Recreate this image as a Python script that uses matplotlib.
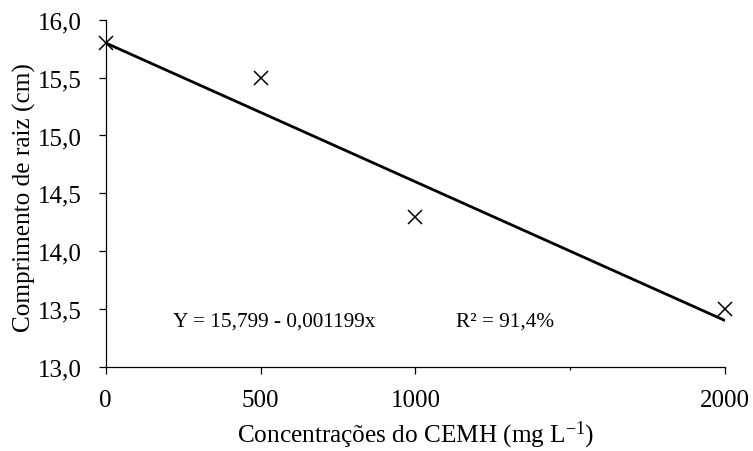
import numpy as np
import matplotlib.pyplot as plt
from matplotlib.ticker import FuncFormatter

plt.rcParams['font.family'] = ['Liberation Serif', 'DejaVu Serif']
plt.rcParams['mathtext.fontset'] = 'custom'
plt.rcParams['mathtext.rm'] = 'Liberation Serif'
plt.rcParams['mathtext.it'] = 'Liberation Serif:italic'

# Data
concentracao = [0, 500, 1000, 2000]          # mg L-1
comprimento = [15.8, 15.5, 14.3, 13.5]       # cm

# Fitted regression
intercepto = 15.799
inclinacao = -0.001199
r2_pct = 91.4

x_ticks = [0, 500, 1000, 2000]
x_minor = [1500]
y_ticks = [13.0, 13.5, 14.0, 14.5, 15.0, 15.5, 16.0]

fig = plt.figure(figsize=(7.53, 4.52), dpi=100)
ax = fig.add_axes([0.1404, 0.1858, 0.8226, 0.7684])

# regression line
x_fit = np.array([concentracao[0], concentracao[-1]])
y_fit = intercepto + inclinacao * x_fit
ax.plot(x_fit, y_fit, color='black', lw=2.0, solid_capstyle='butt', zorder=2)

# observed points
ax.plot(concentracao, comprimento, linestyle='none', marker='x',
        markersize=9.5, markeredgewidth=1.1, color='black', zorder=3, clip_on=False)

ax.set_xlim(0, 2000)
ax.set_ylim(13.0, 16.0)
ax.set_xticks(x_ticks)
ax.set_xticks(x_minor, minor=True)
ax.set_yticks(y_ticks)
ax.yaxis.set_major_formatter(FuncFormatter(lambda v, p: f"{v:.1f}".replace('.', ',')))

for side in ['top', 'right']:
    ax.spines[side].set_visible(False)
for side in ['left', 'bottom']:
    ax.spines[side].set_linewidth(0.9)

ax.tick_params(axis='x', which='major', direction='out', length=5, width=0.9,
               pad=10.5, labelsize=18)
ax.tick_params(axis='x', which='minor', direction='out', length=2, width=0.9)
ax.tick_params(axis='y', which='major', direction='out', length=5, width=0.9,
               pad=12.5, labelsize=18)

ax.set_xlabel('Concentrações do CEMH (mg L$^{\\mathrm{-1}}$)', fontsize=18.2)
ax.set_ylabel('Comprimento de raiz (cm)', fontsize=18.2)
ax.xaxis.set_label_coords(0.5, -0.195)
ax.yaxis.set_label_coords(-0.132, 0.49)
ax.xaxis.label.set_va('center')
ax.yaxis.label.set_va('center')

eq = f"Y = {intercepto:.3f} - {abs(inclinacao):.6f}x".replace('.', ',')
ax.text(217, 13.40, eq, fontsize=15.3, va='center', ha='left')
ax.text(1131, 13.40, f"R² = {r2_pct:.1f}%".replace('.', ','), fontsize=15.3,
        va='center', ha='left')

fig.savefig('out.png', dpi=100)
